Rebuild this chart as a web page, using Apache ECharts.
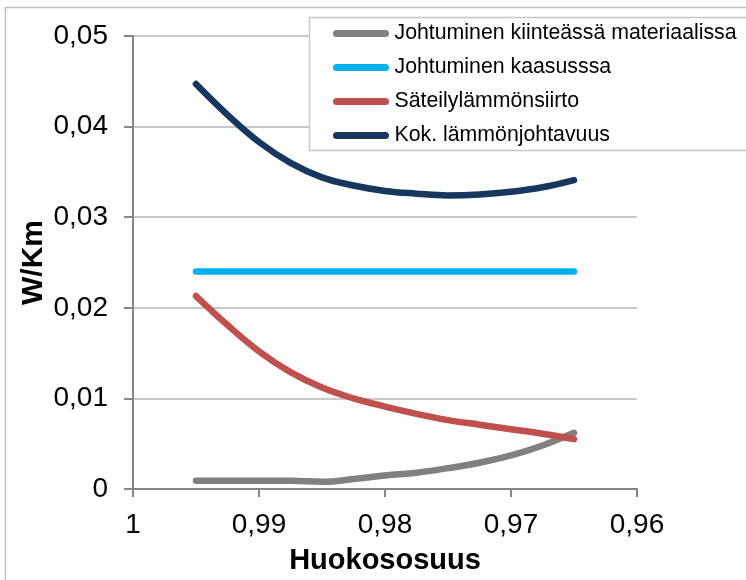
<!DOCTYPE html>
<html>
<head>
<meta charset="utf-8">
<script src="https://cdn.jsdelivr.net/npm/echarts@6/dist/echarts.min.js"></script>
<style>html,body{margin:0;padding:0;background:#fff}#c{width:746px;height:580px}</style>
</head>
<body>
<div id="c"></div>
<script>
// Porosity (Huokososuus) sample points
const porosity = [0.995, 0.9925, 0.99, 0.9875, 0.985, 0.9825, 0.98, 0.9775, 0.975, 0.9725, 0.97, 0.9675, 0.965];
// W/Km values
const solidConduction = [0.0009, 0.0009, 0.0009, 0.0009, 0.0008, 0.0011, 0.0015, 0.0018, 0.0023, 0.0029, 0.0037, 0.0048, 0.0062];
const gasConduction   = [0.024, 0.024, 0.024, 0.024, 0.024, 0.024, 0.024, 0.024, 0.024, 0.024, 0.024, 0.024, 0.024];
const radiation       = [0.0213, 0.0181, 0.0152, 0.0129, 0.0112, 0.0100, 0.0091, 0.0083, 0.0076, 0.0071, 0.0066, 0.0061, 0.0055];
const totalConductivity = [0.0447, 0.0413, 0.0383, 0.0360, 0.0344, 0.0335, 0.0329, 0.0326, 0.0324, 0.0325, 0.0328, 0.0333, 0.0341];
const seriesNames = ['Johtuminen kiinteässä materiaalissa', 'Johtuminen kaasusssa', 'Säteilylämmönsiirto', 'Kok. lämmönjohtavuus'];
const xTitle = 'Huokososuus';
const yTitle = 'W/Km';

const colors = ['#808080', '#00b0f0', '#c0504d', '#17375e'];
const values = [solidConduction, gasConduction, radiation, totalConductivity];
const fmt = v => (Math.abs(v) < 1e-9 ? '0' : (Math.abs(v - 1) < 1e-9 ? '1' : v.toFixed(2).replace('.', ',')));
const font = '"Liberation Sans", Arial, sans-serif';
const capsule = 'path://M3.5,0 L52.5,0 A3.5,3.5 0 0 1 52.5,7 L3.5,7 A3.5,3.5 0 0 1 3.5,0 Z';

const chart = echarts.init(document.getElementById('c'), null, {renderer: 'canvas'});
chart.setOption({
  backgroundColor: '#fff',
  animation: false,
  textStyle: {fontFamily: font},
  graphic: [
    {type: 'rect', shape: {x: 5.5, y: 7.5, width: 800, height: 700}, style: {fill: 'none', stroke: '#bfbfbf', lineWidth: 1.5}, z: -10},
    {type: 'rect', shape: {x: 309.5, y: 17.5, width: 500, height: 133}, style: {fill: '#fff', stroke: '#c8c8c8', lineWidth: 1.5}, z: 5}
  ],
  legend: {
    orient: 'vertical', left: 328, top: 18, z: 10,
    itemWidth: 57, itemHeight: 7, itemGap: 13,
    icon: capsule,
    textStyle: {fontSize: 21.3, lineHeight: 21, color: '#000', fontFamily: font},
    data: seriesNames
  },
  grid: {left: 133, right: 109, top: 36, bottom: 90},
  xAxis: {
    type: 'value', inverse: true, min: 0.96, max: 1, interval: 0.01,
    name: xTitle, nameLocation: 'middle', nameGap: 57, nameMoveOverlap: false,
    nameTextStyle: {fontSize: 29, fontWeight: 'bold', color: '#000', fontFamily: font},
    axisLine: {show: true, lineStyle: {color: '#868686', width: 2}},
    axisTick: {show: true, length: 8, lineStyle: {color: '#868686', width: 2}},
    axisLabel: {fontSize: 28, color: '#000', margin: 22, formatter: fmt, fontFamily: font},
    splitLine: {show: false}
  },
  yAxis: {
    type: 'value', min: 0, max: 0.05, interval: 0.01,
    name: yTitle, nameLocation: 'middle', nameGap: 84, nameRotate: 90, nameMoveOverlap: false,
    nameTextStyle: {fontSize: 30, fontWeight: 'bold', color: '#000', fontFamily: font},
    axisLine: {show: true, lineStyle: {color: '#868686', width: 2}},
    axisTick: {show: true, length: 9, lineStyle: {color: '#868686', width: 2}},
    axisLabel: {fontSize: 28, color: '#000', margin: 25, formatter: fmt, fontFamily: font},
    splitLine: {show: true, lineStyle: {color: '#c8c8c8', width: 2}}
  },
  series: seriesNames.map((name, i) => ({
    name: name, type: 'line', smooth: 0.4, symbol: 'none',
    color: colors[i],
    lineStyle: {color: colors[i], width: 6.5, cap: 'round', join: 'round'},
    data: porosity.map((x, j) => [x, values[i][j]]),
    z: 2 + i
  }))
});
</script>
</body>
</html>
